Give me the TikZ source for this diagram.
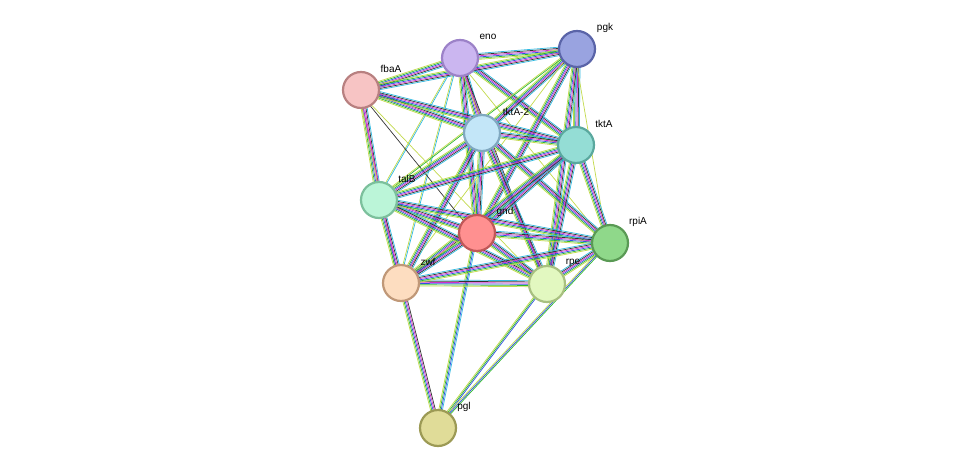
\documentclass[tikz,border=0pt]{standalone}
\usepackage{fontspec}
\setmainfont{Liberation Sans}
\usetikzlibrary{calc}
\definecolor{tm}{HTML}{C2D94A}
\definecolor{gn}{HTML}{2EB82E}
\definecolor{bl}{HTML}{3050E0}
\definecolor{mg}{HTML}{D030C8}
\definecolor{bk}{HTML}{333333}
\definecolor{cy}{HTML}{30B8E0}
\newcommand\E[3]{\edef\lst{#3}\foreach \c [count=\i] in \lst {\pgfmathsetmacro\o{\i*1.2-4}
 \draw[\c,line width=0.7pt] ($(#1)!\o pt!90:(#2)$) -- ($(#2)!\o pt!-90:(#1)$);}}
\def\H{tm,gn,bl,mg,bk,cy}
\tikzset{prot/.style={circle,minimum size=36pt,line width=2.2pt,inner sep=0pt},
 lab/.style={font=\fontsize{10}{11}\selectfont,anchor=center}}
\begin{document}
\begin{tikzpicture}[x=1pt,y=-1pt]
\useasboundingbox (0,0) rectangle (975,474);
\coordinate (eno) at (460,58); \coordinate (pgk) at (577,49);
\coordinate (fbaA) at (361,90); \coordinate (tk2) at (482,133);
\coordinate (tktA) at (576,145); \coordinate (talB) at (379,200);
\coordinate (gnd) at (477,233); \coordinate (rpiA) at (610,243);
\coordinate (zwf) at (401,283); \coordinate (rpe) at (547,284);
\coordinate (pgl) at (438,428);
\E{eno}{pgk}{\H}\E{eno}{fbaA}{\H}\E{eno}{tk2}{\H}\E{eno}{tktA}{\H}
\E{eno}{talB}{tm,cy}\E{eno}{gnd}{\H}\E{eno}{rpe}{tm,mg,bk}\E{eno}{zwf}{tm,cy}\E{eno}{rpiA}{tm}
\E{pgk}{fbaA}{\H}\E{pgk}{tk2}{\H}\E{pgk}{tktA}{\H}\E{pgk}{talB}{tm,gn}\E{pgk}{gnd}{\H}
\E{pgk}{rpe}{\H}\E{pgk}{rpiA}{tm}\E{pgk}{zwf}{tm}
\E{fbaA}{tk2}{\H}\E{fbaA}{tktA}{\H}\E{fbaA}{talB}{\H}\E{fbaA}{gnd}{bk}\E{fbaA}{zwf}{tm,mg}\E{fbaA}{rpe}{tm}
\E{tk2}{tktA}{\H}\E{tk2}{talB}{\H}\E{tk2}{gnd}{\H}\E{tk2}{rpiA}{\H}\E{tk2}{zwf}{\H}\E{tk2}{rpe}{\H}
\E{tktA}{talB}{\H}\E{tktA}{gnd}{\H}\E{tktA}{rpiA}{\H}\E{tktA}{zwf}{\H}\E{tktA}{rpe}{\H}
\E{talB}{gnd}{\H}\E{talB}{zwf}{\H}\E{talB}{rpe}{\H}\E{talB}{rpiA}{\H}
\E{gnd}{zwf}{\H}\E{gnd}{rpe}{\H}\E{gnd}{rpiA}{\H}\E{gnd}{pgl}{tm,gn,bl,cy}
\E{zwf}{rpe}{\H}\E{zwf}{rpiA}{\H}\E{zwf}{pgl}{tm,gn,bl,mg,bk}
\E{rpe}{rpiA}{\H}\E{rpe}{pgl}{tm,gn,bl}\E{rpiA}{pgl}{tm,bl,gn}
\node[prot,fill={rgb,255:red,203;green,182;blue,240},draw={rgb,255:red,156;green,130;blue,200}] (n1) at (eno) {};
\node[prot,fill={rgb,255:red,153;green,163;blue,224},draw={rgb,255:red,90;green,100;blue,168}] (n2) at (pgk) {};
\node[prot,fill={rgb,255:red,247;green,196;blue,196},draw={rgb,255:red,184;green,128;blue,128}] (n3) at (fbaA) {};
\node[prot,fill={rgb,255:red,195;green,230;blue,248},draw={rgb,255:red,128;green,168;blue,192}] (n4) at (tk2) {};
\node[prot,fill={rgb,255:red,148;green,221;blue,213},draw={rgb,255:red,90;green,168;blue,158}] (n5) at (tktA) {};
\node[prot,fill={rgb,255:red,187;green,245;blue,216},draw={rgb,255:red,124;green,192;blue,156}] (n6) at (talB) {};
\node[prot,fill={rgb,255:red,255;green,144;blue,144},draw={rgb,255:red,192;green,88;blue,88}] (n7) at (gnd) {};
\node[prot,fill={rgb,255:red,143;green,216;blue,138},draw={rgb,255:red,90;green,154;blue,85}] (n8) at (rpiA) {};
\node[prot,fill={rgb,255:red,253;green,221;blue,192},draw={rgb,255:red,192;green,152;blue,120}] (n9) at (zwf) {};
\node[prot,fill={rgb,255:red,226;green,248;blue,192},draw={rgb,255:red,168;green,192;blue,128}] (n10) at (rpe) {};
\node[prot,fill={rgb,255:red,224;green,220;blue,152},draw={rgb,255:red,156;green,154;blue,85}] (n11) at (pgl) {};
\node[lab] at (488,37) {eno}; \node[lab] at (605,28) {pgk};
\node[lab] at (391,69) {fbaA}; \node[lab] at (516,112) {tktA-2};
\node[lab] at (604,124) {tktA}; \node[lab] at (407,179) {talB};
\node[lab] at (505,212) {gnd}; \node[lab] at (638,222) {rpiA};
\node[lab] at (428,262) {zwf}; \node[lab] at (573,263) {rpe};
\node[lab] at (464,407) {pgl};
\end{tikzpicture}
\end{document}
